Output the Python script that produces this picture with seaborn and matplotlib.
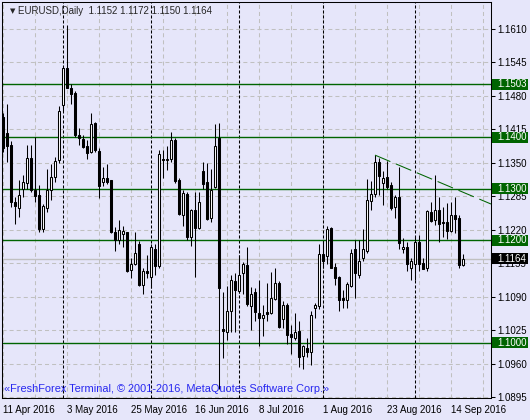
import numpy as np
import pandas as pd
import seaborn as sns
import matplotlib
matplotlib.use("Agg")
from matplotlib import pyplot as plt
from matplotlib.patches import Rectangle
from matplotlib.transforms import blended_transform_factory

# EURUSD daily bars (11 Apr 2016 .. 19 Sep 2016)
opens = [1.1440, 1.1408, 1.1385, 1.1274, 1.1262, 1.1300, 1.1310, 1.1359, 1.1297, 1.1287,
         1.1222, 1.1262, 1.1297, 1.1322, 1.1356, 1.1462, 1.1535, 1.1496, 1.1486, 1.1405,
         1.1396, 1.1382, 1.1371, 1.1427, 1.1373, 1.1312, 1.1320, 1.1316, 1.1215, 1.1200,
         1.1212, 1.1216, 1.1141, 1.1154, 1.1192, 1.1112, 1.1140, 1.1129, 1.1182, 1.1150,
         1.1357, 1.1355, 1.1358, 1.1395, 1.1316, 1.1249, 1.1290, 1.1205, 1.1259, 1.1224,
         1.1334, 1.1312, 1.1243, 1.1303, 1.1399, 1.1028, 1.1021, 1.1063, 1.1120, 1.1101,
         1.1135, 1.1152, 1.1071, 1.1099, 1.1058, 1.1048, 1.1060, 1.1058, 1.1086, 1.1116,
         1.1046, 1.1073, 1.1017, 1.1009, 1.1024, 1.0974, 1.0991, 1.0983, 1.1067, 1.1071,
         1.1173, 1.1169, 1.1223, 1.1148, 1.1128, 1.1088, 1.1084, 1.1110, 1.1182, 1.1133,
         1.1166, 1.1179, 1.1276, 1.1289, 1.1352, 1.1311, 1.1323, 1.1306, 1.1264, 1.1284,
         1.1182, 1.1186, 1.1145, 1.1154, 1.1197, 1.1155, 1.1145, 1.1254, 1.1238, 1.1259,
         1.1235, 1.1235, 1.1217, 1.1249, 1.1243, 1.1152]
highs = [1.1447, 1.1465, 1.1393, 1.1284, 1.1316, 1.1326, 1.1384, 1.1385, 1.1400, 1.1306,
         1.1270, 1.1339, 1.1348, 1.1362, 1.1460, 1.1535, 1.1617, 1.1503, 1.1490, 1.1418,
         1.1405, 1.1395, 1.1446, 1.1429, 1.1378, 1.1341, 1.1348, 1.1316, 1.1225, 1.1238,
         1.1228, 1.1216, 1.1166, 1.1215, 1.1199, 1.1146, 1.1171, 1.1193, 1.1192, 1.1374,
         1.1375, 1.1383, 1.1410, 1.1399, 1.1320, 1.1297, 1.1293, 1.1261, 1.1293, 1.1293,
         1.1352, 1.1349, 1.1339, 1.1425, 1.1427, 1.1100, 1.1110, 1.1132, 1.1135, 1.1171,
         1.1158, 1.1186, 1.1108, 1.1107, 1.1123, 1.1074, 1.1117, 1.1137, 1.1145, 1.1121,
         1.1081, 1.1078, 1.1035, 1.1058, 1.1042, 1.0996, 1.1009, 1.1063, 1.1078, 1.1192,
         1.1199, 1.1227, 1.1225, 1.1156, 1.1130, 1.1102, 1.1118, 1.1182, 1.1200, 1.1200,
         1.1221, 1.1319, 1.1314, 1.1365, 1.1359, 1.1334, 1.1354, 1.1313, 1.1287, 1.1341,
         1.1204, 1.1196, 1.1166, 1.1205, 1.1209, 1.1166, 1.1258, 1.1274, 1.1326, 1.1284,
         1.1265, 1.1271, 1.1273, 1.1284, 1.1248, 1.1172]
lows = [1.1372, 1.1352, 1.1264, 1.1231, 1.1244, 1.1284, 1.1300, 1.1293, 1.1274, 1.1216,
        1.1216, 1.1254, 1.1277, 1.1313, 1.1349, 1.1450, 1.1495, 1.1465, 1.1401, 1.1385,
        1.1378, 1.1358, 1.1369, 1.1372, 1.1282, 1.1305, 1.1308, 1.1213, 1.1178, 1.1193,
        1.1186, 1.1137, 1.1127, 1.1152, 1.1110, 1.1096, 1.1127, 1.1107, 1.1133, 1.1146,
        1.1320, 1.1336, 1.1352, 1.1310, 1.1248, 1.1228, 1.1200, 1.1189, 1.1129, 1.1222,
        1.1300, 1.1238, 1.1236, 1.1302, 1.0910, 1.0970, 1.1006, 1.1022, 1.1022, 1.1097,
        1.1096, 1.1071, 1.1025, 1.1042, 1.0995, 1.1014, 1.1042, 1.1056, 1.1084, 1.1030,
        1.1029, 1.0998, 1.0978, 1.1005, 1.0953, 1.0950, 1.0973, 1.0957, 1.1049, 1.1066,
        1.1146, 1.1153, 1.1145, 1.1113, 1.1063, 1.1068, 1.1068, 1.1108, 1.1087, 1.1127,
        1.1160, 1.1175, 1.1259, 1.1284, 1.1287, 1.1268, 1.1300, 1.1258, 1.1242, 1.1182,
        1.1175, 1.1140, 1.1123, 1.1123, 1.1140, 1.1143, 1.1140, 1.1235, 1.1230, 1.1196,
        1.1205, 1.1202, 1.1216, 1.1213, 1.1146, 1.1150]
closes = [1.1378, 1.1383, 1.1273, 1.1266, 1.1287, 1.1313, 1.1359, 1.1297, 1.1286, 1.1222,
          1.1267, 1.1297, 1.1322, 1.1354, 1.1450, 1.1534, 1.1496, 1.1484, 1.1405, 1.1398,
          1.1380, 1.1370, 1.1425, 1.1374, 1.1305, 1.1320, 1.1312, 1.1215, 1.1200, 1.1220,
          1.1218, 1.1139, 1.1154, 1.1174, 1.1112, 1.1139, 1.1135, 1.1187, 1.1150, 1.1367,
          1.1356, 1.1357, 1.1395, 1.1315, 1.1251, 1.1292, 1.1205, 1.1259, 1.1224, 1.1274,
          1.1308, 1.1241, 1.1297, 1.1383, 1.1107, 1.1024, 1.1063, 1.1122, 1.1103, 1.1133,
          1.1153, 1.1075, 1.1096, 1.1060, 1.1048, 1.1055, 1.1056, 1.1088, 1.1116, 1.1032,
          1.1073, 1.1016, 1.1011, 1.1022, 1.0973, 1.0994, 1.0982, 1.1055, 1.1073, 1.1173,
          1.1159, 1.1222, 1.1146, 1.1127, 1.1084, 1.1084, 1.1114, 1.1174, 1.1135, 1.1159,
          1.1182, 1.1277, 1.1290, 1.1352, 1.1324, 1.1320, 1.1303, 1.1263, 1.1284, 1.1195,
          1.1187, 1.1154, 1.1159, 1.1197, 1.1154, 1.1143, 1.1256, 1.1237, 1.1259, 1.1231,
          1.1233, 1.1217, 1.1249, 1.1241, 1.1152, 1.1164]

first_day = "2016-04-11"
symbol = "EURUSD,Daily"
levels = [1.1503, 1.1400, 1.1300, 1.1200, 1.1000]
price_ticks = [1.1610, 1.1545, 1.1480, 1.1415, 1.1350, 1.1285,
               1.1220, 1.1155, 1.1090, 1.1025, 1.0960, 1.0895]
trend_bars = [93, 122]
trend_prices = [1.1365, 1.1270]
copyright_text = "\u00abFreshForex Terminal, \u00a9 2001-2016, MetaQuotes Software Corp.\u00bb"

BG = "#E6E6FA"
GREEN = "#006400"
GRID = "#C0C0C0"
FS = 7

sns.set_theme(style="white", rc={"axes.facecolor": BG, "figure.facecolor": BG})
plt.rcParams["font.family"] = ["Liberation Sans", "DejaVu Sans"]
plt.rcParams["lines.scale_dashes"] = False

dates = pd.bdate_range(first_day, periods=len(closes))
df = pd.DataFrame({"date": dates, "open": opens, "high": highs,
                   "low": lows, "close": closes})
df["bar"] = np.arange(len(df))

fig = plt.figure(figsize=(5.3, 4.2), dpi=100)
ax = fig.add_axes([2 / 530, 22 / 420, 489 / 530, 396 / 420])
ymin, ymax = 1.08931, 1.16625
ax.set_xlim(-0.25, 122)
ax.set_ylim(ymin, ymax)

# grid
for p in price_ticks:
    ax.axhline(p, color=GRID, lw=0.75, ls=(0, (2.9, 2.2)), zorder=1)
for b in range(0, 123, 8):
    ax.axvline(b, color=GRID, lw=0.75, ls=(0, (2.9, 2.2)), zorder=1)

# month separators
month_start = df["bar"][df["date"].dt.month != df["date"].dt.month.shift()].iloc[1:]
for b in month_start:
    ax.axvline(b, color="black", lw=0.75, ls=(0, (2.2, 1.4)), zorder=2)

# levels and bid line
for lv in levels:
    ax.axhline(lv, color=GREEN, lw=1.0, zorder=2)
ax.axhline(df["close"].iloc[-1], color=GRID, lw=1.0, zorder=2)

# candles
up = df["close"] >= df["open"]
ax.vlines(df["bar"], df["low"], df["high"], color="black", lw=0.75, zorder=3)
ax.bar(df["bar"], (df["close"] - df["open"]).abs(),
       bottom=np.minimum(df["open"], df["close"]), width=0.6,
       color=np.where(up, "white", "black"), edgecolor="black",
       linewidth=0.75, zorder=4)

# trend line
sns.lineplot(x=trend_bars, y=trend_prices, ax=ax, color=GREEN, lw=0.75,
             linestyle=(0, (12, 4.3)), zorder=3)

# axes and ticks
for s in ax.spines.values():
    s.set_color("black")
    s.set_linewidth(0.75)
ax.yaxis.tick_right()
ax.set_yticks(price_ticks)
ax.set_yticklabels([f"{p:.4f}" for p in price_ticks])
xt = df["bar"][::16]
ax.set_xticks(xt)
ax.set_xticklabels([f"{d.day} {d.strftime('%b %Y')}" for d in df["date"][::16]], ha="left")
ax.tick_params(axis="both", direction="out", length=3, width=0.75,
               color="black", labelsize=FS, labelcolor="black")
ax.tick_params(axis="y", pad=1.5)
ax.tick_params(axis="x", pad=2)
ax.set_xlabel("")
ax.set_ylabel("")

# price labels on the right
trans = blended_transform_factory(ax.transAxes, ax.transData)
hh = 5.5 / 396 * (ymax - ymin)
boxes = [(lv, GREEN) for lv in levels] + [(df["close"].iloc[-1], "black")]
for lv, colr in boxes:
    ax.add_patch(Rectangle((1.002, lv - hh), 0.074, 2 * hh, transform=trans,
                           clip_on=False, fc=colr, ec="none", zorder=6))
    ax.text(1.0123, lv, f"{lv:.4f}", transform=trans, color="white", va="center",
            ha="left", fontsize=FS, zorder=7, clip_on=False)

# header and copyright
last = df.iloc[-1]
ax.text(8 / 489, 1 - 9 / 396, "\u25bc", transform=ax.transAxes, fontsize=5,
        family="DejaVu Sans", va="center", ha="left", zorder=7)
ax.text(16 / 489, 1 - 9 / 396,
        f"{symbol}  {last['open']:.4f} {last['high']:.4f} {last['low']:.4f} {last['close']:.4f}",
        transform=ax.transAxes, fontsize=FS, va="center", ha="left", zorder=7)
ax.text(2 / 489, 9 / 396, copyright_text, transform=ax.transAxes, fontsize=7.9,
        color="#2828F0", va="center", ha="left", zorder=7)

fig.savefig("out.png", dpi=100, facecolor=BG)
